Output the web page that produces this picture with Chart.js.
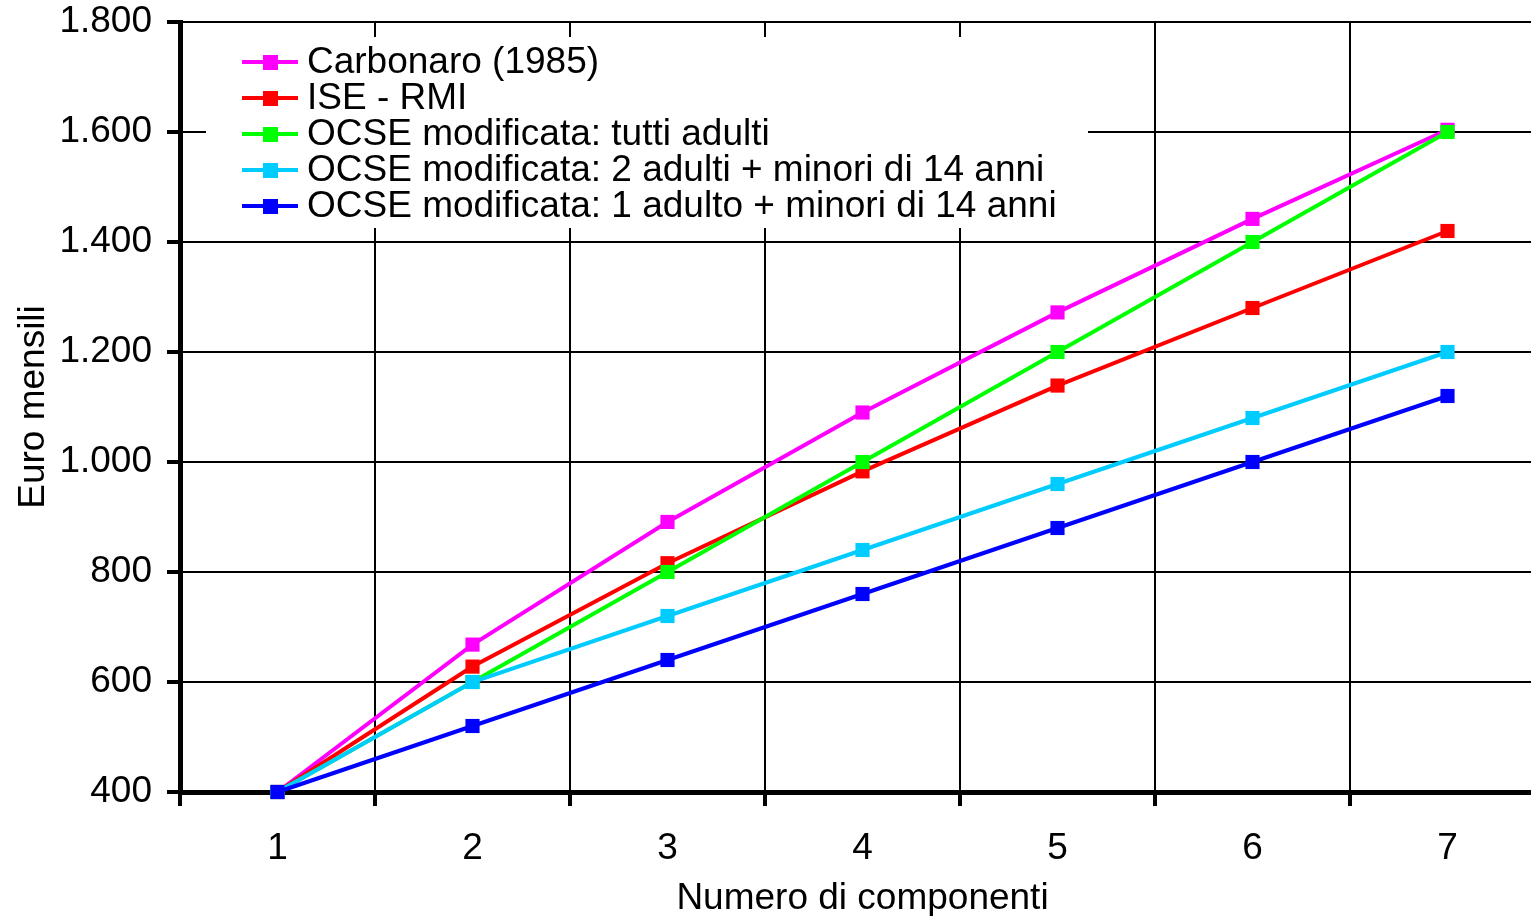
<!DOCTYPE html>
<html>
<head>
<meta charset="utf-8">
<script src="https://cdn.jsdelivr.net/npm/chart.js@4/dist/chart.umd.min.js"></script>
<style>
  html, body { margin: 0; padding: 0; background: #fff; overflow: hidden; }
</style>
</head>
<body>
<canvas id="myChart" width="1555" height="916"></canvas>
<script>
const componenti = ['1', '2', '3', '4', '5', '6', '7'];

const carbonaro = [400, 668, 891, 1090, 1272, 1442, 1604];
const iseRmi = [400, 628, 816, 983, 1139, 1280, 1420];
const ocseTutti = [400, 600, 800, 1000, 1200, 1400, 1600];
const ocseDue = [400, 600, 720, 840, 960, 1080, 1200];
const ocseUno = [400, 520, 640, 760, 880, 1000, 1120];

const yTicks = [400, 600, 800, 1000, 1200, 1400, 1600, 1800];

const FONT = '"Liberation Sans", Arial, sans-serif';
const FS = 37;

function serie(label, data, color, order) {
  return {
    label: label,
    data: data,
    borderColor: color,
    backgroundColor: color,
    borderWidth: 4,
    pointStyle: 'rect',
    pointRadius: 10,
    pointHoverRadius: 10,
    pointBorderWidth: 0,
    tension: 0,
    fill: false,
    clip: false,
    order: order
  };
}

// dot as thousands separator, like the original
function fmt(v) {
  return String(v).replace(/\B(?=(\d{3})+(?!\d))/g, '.');
}

// legend sits inside the plot on a white box
const boxLegend = {
  id: 'boxLegend',
  beforeDatasetsDraw(chart) {
    const ctx = chart.ctx;
    const a = chart.chartArea;
    ctx.save();
    ctx.fillStyle = '#fff';
    ctx.fillRect(a.left + 26, a.top + 15, 882, 191);
    ctx.font = FS + 'px ' + FONT;
    ctx.textBaseline = 'middle';
    chart.data.datasets.forEach((ds, i) => {
      const y = a.top + 40 + i * 36;
      ctx.strokeStyle = ds.borderColor;
      ctx.lineWidth = 4;
      ctx.beginPath();
      ctx.moveTo(a.left + 62, y);
      ctx.lineTo(a.left + 118, y);
      ctx.stroke();
      ctx.fillStyle = ds.borderColor;
      ctx.fillRect(a.left + 83, y - 7, 15, 15);
      ctx.fillStyle = '#000';
      ctx.fillText(ds.label, a.left + 127, y + 1);
    });
    ctx.restore();
  }
};

new Chart('myChart', {
  type: 'line',
  data: {
    labels: componenti,
    datasets: [
      serie('Carbonaro (1985)', carbonaro, '#ff00ff', 5),
      serie('ISE - RMI', iseRmi, '#ff0000', 4),
      serie('OCSE modificata: tutti adulti', ocseTutti, '#00ff00', 3),
      serie('OCSE modificata: 2 adulti + minori di 14 anni', ocseDue, '#00ccff', 2),
      serie('OCSE modificata: 1 adulto + minori di 14 anni', ocseUno, '#0000ff', 1)
    ]
  },
  options: {
    responsive: false,
    animation: false,
    layout: { padding: { top: 22, right: 1, bottom: 0, left: 0 } },
    plugins: {
      legend: { display: false },
      tooltip: { enabled: false }
    },
    scales: {
      x: {
        offset: true,
        grid: {
          offset: true,
          color: '#000',
          lineWidth: 2,
          tickLength: 14,
          tickWidth: 4,
          tickColor: '#000'
        },
        border: { color: '#000', width: 5 },
        ticks: {
          color: '#000',
          font: { family: FONT, size: FS },
          padding: 21,
          maxRotation: 0
        },
        title: {
          display: true,
          text: 'Numero di componenti',
          color: '#000',
          font: { family: FONT, size: FS, lineHeight: 1.2 },
          padding: { top: 0, bottom: -5 }
        },
        afterFit(s) { s.height = 124; }
      },
      y: {
        min: 400,
        max: 1800,
        afterBuildTicks(s) { s.ticks = yTicks.map(v => ({ value: v })); },
        grid: {
          color: '#000',
          lineWidth: 2,
          tickLength: 13,
          tickWidth: 4,
          tickColor: '#000'
        },
        border: { color: '#000', width: 5 },
        ticks: {
          color: '#000',
          font: { family: FONT, size: FS },
          padding: 15,
          callback: v => fmt(v)
        },
        title: {
          display: true,
          text: 'Euro mensili',
          color: '#000',
          font: { family: FONT, size: FS, lineHeight: 1.2 },
          padding: { top: 12, bottom: 0 }
        },
        afterFit(s) {
          s.width = 180;
          s.paddingTop = 0;
          s.paddingBottom = 0;
        }
      }
    }
  },
  plugins: [boxLegend]
});
</script>
</body>
</html>
